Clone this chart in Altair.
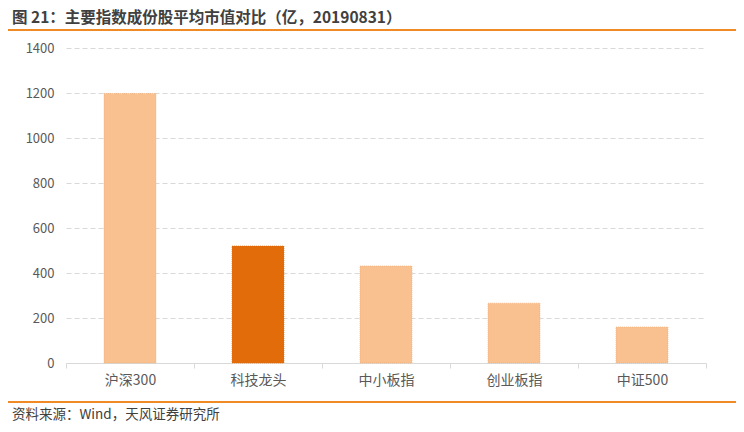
import altair as alt
import pandas as pd

categories = ["沪深300", "科技龙头", "中小板指", "创业板指", "中证500"]
values = [1198, 520, 431, 266, 160]
highlight = [False, True, False, False, False]
y_ticks = [0, 200, 400, 600, 800, 1000, 1200, 1400]

title_text = "图 21：主要指数成份股平均市值对比（亿，20190831）"
source_text = "资料来源：Wind，天风证券研究所"

df = pd.DataFrame({"cat": categories, "val": values, "hl": highlight})
one = pd.DataFrame({"a": [0]})

FONT = "Noto Sans CJK SC"
W, H = 640, 315

bars = alt.Chart(df).mark_bar(size=52, strokeWidth=0.6, strokeDash=[1, 1]).encode(
    x=alt.X("cat:N", sort=categories, title=None,
            scale=alt.Scale(paddingInner=0, paddingOuter=0),
            axis=alt.Axis(labelAngle=0, labelFont=FONT, labelFontSize=14, labelColor="#595959",
                          domainColor="#D9D9D9", tickColor="#D9D9D9", tickSize=5, tickBand="extent",
                          labelPadding=5, grid=False)),
    y=alt.Y("val:Q", title=None,
            scale=alt.Scale(domain=[0, 1400], nice=False),
            axis=alt.Axis(values=y_ticks, format="d", labelFont=FONT, labelFontSize=13,
                          labelColor="#595959", ticks=False, domain=False, labelPadding=12,
                          grid=True, gridColor="#D9D9D9", gridDash=[5, 3], gridWidth=1)),
    color=alt.Color("hl:N", scale=alt.Scale(domain=[False, True], range=["#F9C18F", "#E36C0A"]), legend=None),
    stroke=alt.Stroke("hl:N", scale=alt.Scale(domain=[False, True], range=["#F0A870", "#E36C0A"]), legend=None),
)

title = alt.Chart(one).mark_text(align="left", baseline="middle", font=FONT, fontSize=15.5,
                                 fontWeight="bold", color="#404040").encode(
    x=alt.value(-54), y=alt.value(-30), text=alt.value(title_text))

top_line = alt.Chart(one).mark_rule(color="#F08A24", strokeWidth=2).encode(
    x=alt.value(-66), x2=alt.value(680), y=alt.value(-18))

bottom_line = alt.Chart(one).mark_rule(color="#F08A24", strokeWidth=2).encode(
    x=alt.value(-66), x2=alt.value(680), y=alt.value(354))

source = alt.Chart(one).mark_text(align="left", baseline="middle", font=FONT, fontSize=13.5,
                                  color="#404040").encode(
    x=alt.value(-54), y=alt.value(367), text=alt.value(source_text))

chart = alt.layer(bars, title, top_line, bottom_line, source).properties(
    width=W, height=H,
    autosize=alt.AutoSizeParams(type="none"),
    padding={"left": 58, "top": 40, "right": 30, "bottom": 61},
    background="white",
).configure_view(stroke=None)

chart.save("out.html", embed_options={"renderer": "svg", "actions": False})
